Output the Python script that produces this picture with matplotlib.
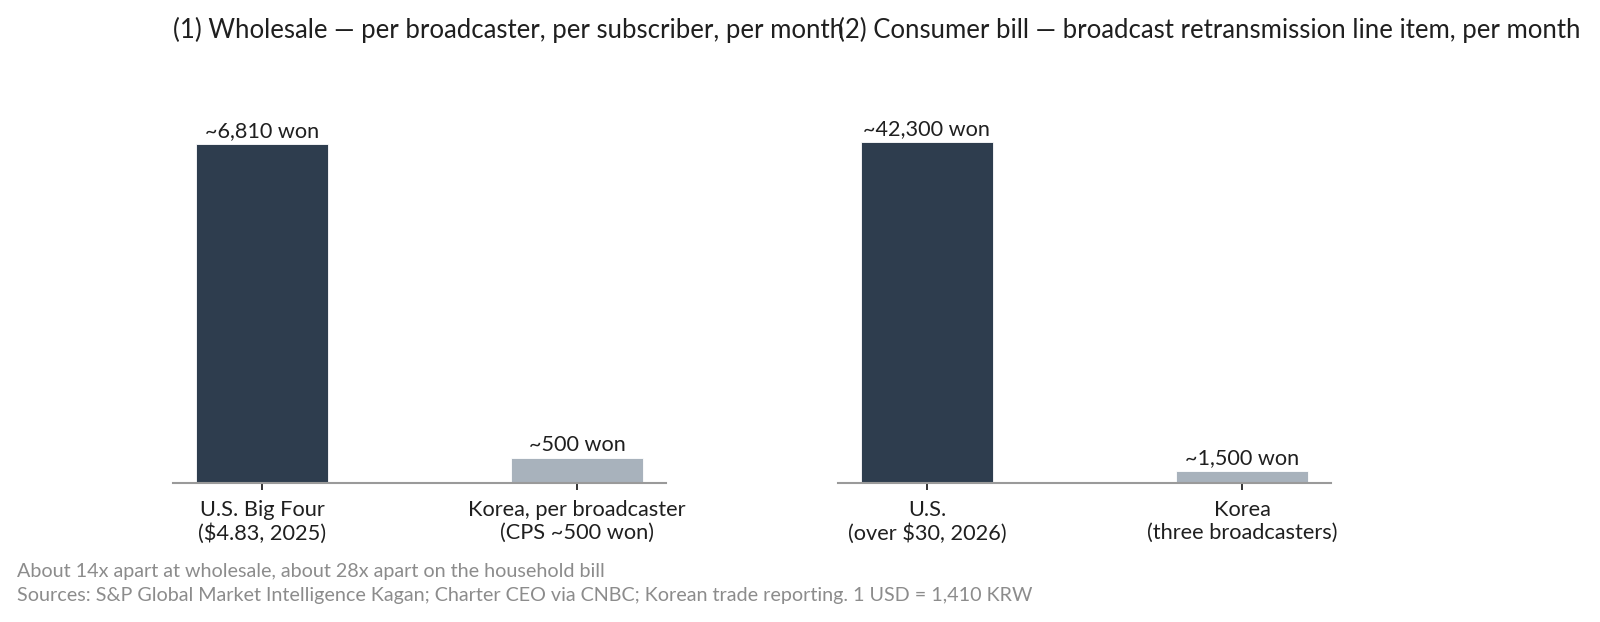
import matplotlib.pyplot as plt
import numpy as np

plt.rcParams["font.family"] = ["Lato", "DejaVu Sans"]

# panel 1: wholesale fee per broadcaster, per subscriber, per month (won)
WHOLESALE_LABELS = ["U.S. Big Four\n(\\$4.83, 2025)", "Korea, per broadcaster\n(CPS ~500 won)"]
WHOLESALE_VALUES = [6810, 500]
WHOLESALE_TEXT = ["~6,810 won", "~500 won"]

# panel 2: consumer bill line item, per month (won)
BILL_LABELS = ["U.S.\n(over \\$30, 2026)", "Korea\n(three broadcasters)"]
BILL_VALUES = [42300, 1500]
BILL_TEXT = ["~42,300 won", "~1,500 won"]

TITLES = [
    "(1) Wholesale \u2014 per broadcaster, per subscriber, per month",
    "(2) Consumer bill \u2014 broadcast retransmission line item, per month",
]
NOTE = "About 14x apart at wholesale, about 28x apart on the household bill"
SOURCE = ("Sources: S&P Global Market Intelligence Kagan; Charter CEO via CNBC; "
          "Korean trade reporting. 1 USD = 1,410 KRW")

DARK = "#2e3d4e"
LIGHT = "#a8b2bc"
TEXT = "#1f1f1f"
GREY = "#8c8c8c"

W, H = 1600, 622
fig = plt.figure(figsize=(W / 100, H / 100), dpi=100)

panels = [
    (WHOLESALE_LABELS, WHOLESALE_VALUES, WHOLESALE_TEXT, TITLES[0], 173, 1.106),
    (BILL_LABELS, BILL_VALUES, BILL_TEXT, TITLES[1], 838, 1.100),
]

ax_h = 375
for labels, values, texts, title, left_px, headroom in panels:
    ax = fig.add_axes([left_px / W, (H - 483) / H, 493 / W, ax_h / H])
    x = np.arange(len(values))
    bars = ax.bar(x, values, width=0.42, color=[DARK, LIGHT],
                  edgecolor="white", linewidth=0.6)
    for b, t in zip(bars, texts):
        ax.annotate(t, (b.get_x() + b.get_width() / 2, b.get_height()),
                    xytext=(0, 2), textcoords="offset points",
                    ha="center", va="bottom", fontsize=15.6, color=TEXT)
    ax.set_xticks(x)
    ax.set_xticklabels(labels, fontsize=15.7, color=TEXT, linespacing=1.15)
    ax.set_ylim(0, max(values) * headroom)
    ax.set_xlim(-0.282, 1.282)
    ax.set_yticks([])
    for s in ["top", "right", "left"]:
        ax.spines[s].set_visible(False)
    ax.spines["bottom"].set_color("#9a9a9a")
    ax.spines["bottom"].set_linewidth(1.5)
    ax.tick_params(axis="x", length=5, width=1.4, color="#333333", pad=7.5)
    ax.set_title(title, loc="left", fontsize=18.5, color=TEXT, pad=50.5)

fig.text(17 / W, 1 - 577.5 / H, NOTE, fontsize=14.2, color=GREY, va="baseline")
fig.text(17 / W, 1 - 601 / H, SOURCE, fontsize=14.2, color=GREY, va="baseline")

fig.savefig("out.png", dpi=100)
